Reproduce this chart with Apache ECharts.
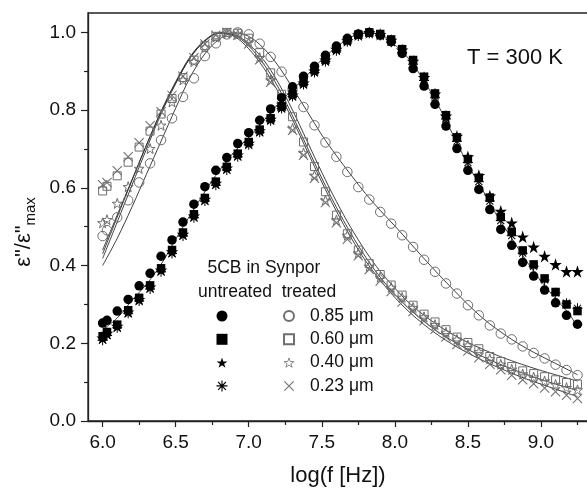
<!DOCTYPE html>
<html><head><meta charset="utf-8">
<script src="https://cdn.jsdelivr.net/npm/echarts@6/dist/echarts.min.js"></script>
<style>html,body{margin:0;padding:0;background:#fff}#c{width:587px;height:494px}</style>
</head><body><div id="c"></div>
<script>
// ---- data ----
const logF = [6.0, 6.03, 6.1, 6.175, 6.25, 6.325, 6.4, 6.475, 6.55, 6.625, 6.7, 6.775, 6.85, 6.925, 7.0, 7.075, 7.15, 7.225, 7.3, 7.375, 7.45, 7.525, 7.6, 7.675, 7.75, 7.825, 7.9, 7.975, 8.05, 8.125, 8.2, 8.275, 8.35, 8.425, 8.5, 8.575, 8.65, 8.725, 8.8, 8.875, 8.95, 9.025, 9.1, 9.175, 9.25];

const untreated085 = [0.252, 0.259, 0.283, 0.313, 0.348, 0.380, 0.424, 0.466, 0.512, 0.558, 0.603, 0.645, 0.678, 0.714, 0.742, 0.774, 0.803, 0.832, 0.860, 0.887, 0.913, 0.941, 0.965, 0.985, 0.996, 1.000, 0.993, 0.976, 0.946, 0.907, 0.862, 0.815, 0.759, 0.701, 0.645, 0.596, 0.544, 0.493, 0.452, 0.408, 0.373, 0.337, 0.304, 0.272, 0.249];
const untreated060 = [0.218, 0.229, 0.248, 0.285, 0.317, 0.349, 0.393, 0.440, 0.485, 0.532, 0.574, 0.616, 0.654, 0.688, 0.718, 0.750, 0.779, 0.810, 0.841, 0.872, 0.903, 0.930, 0.958, 0.980, 0.994, 1.000, 0.996, 0.982, 0.957, 0.929, 0.886, 0.843, 0.787, 0.730, 0.674, 0.626, 0.575, 0.525, 0.487, 0.439, 0.403, 0.367, 0.332, 0.300, 0.283];
const untreated040 = [0.214, 0.226, 0.244, 0.281, 0.313, 0.345, 0.389, 0.436, 0.481, 0.528, 0.571, 0.612, 0.651, 0.685, 0.715, 0.747, 0.777, 0.808, 0.839, 0.870, 0.901, 0.929, 0.957, 0.979, 0.994, 1.000, 0.995, 0.980, 0.955, 0.926, 0.884, 0.842, 0.785, 0.733, 0.680, 0.632, 0.579, 0.540, 0.510, 0.474, 0.448, 0.424, 0.403, 0.385, 0.385];
const untreated023 = [0.208, 0.220, 0.240, 0.277, 0.309, 0.340, 0.384, 0.431, 0.476, 0.523, 0.566, 0.607, 0.646, 0.680, 0.711, 0.743, 0.773, 0.804, 0.835, 0.866, 0.897, 0.925, 0.953, 0.976, 0.991, 0.998, 0.992, 0.975, 0.948, 0.918, 0.876, 0.832, 0.777, 0.720, 0.665, 0.616, 0.566, 0.516, 0.477, 0.432, 0.398, 0.363, 0.330, 0.303, 0.290];

const treated085 = [0.476, 0.491, 0.524, 0.568, 0.614, 0.663, 0.723, 0.779, 0.834, 0.882, 0.939, 0.972, 0.995, 1.000, 0.995, 0.971, 0.937, 0.899, 0.853, 0.808, 0.761, 0.717, 0.680, 0.641, 0.602, 0.570, 0.538, 0.508, 0.478, 0.448, 0.415, 0.384, 0.354, 0.328, 0.298, 0.272, 0.246, 0.225, 0.210, 0.192, 0.175, 0.161, 0.145, 0.131, 0.118];
const treated060 = [0.592, 0.604, 0.631, 0.666, 0.705, 0.746, 0.790, 0.830, 0.884, 0.929, 0.966, 0.990, 1.000, 0.998, 0.985, 0.948, 0.896, 0.841, 0.783, 0.718, 0.655, 0.590, 0.530, 0.482, 0.440, 0.405, 0.377, 0.350, 0.324, 0.298, 0.275, 0.255, 0.235, 0.216, 0.202, 0.186, 0.166, 0.153, 0.140, 0.129, 0.122, 0.114, 0.106, 0.099, 0.095];
const treated040 = [0.510, 0.518, 0.560, 0.603, 0.650, 0.701, 0.761, 0.821, 0.878, 0.925, 0.962, 0.988, 0.998, 0.995, 0.975, 0.935, 0.877, 0.815, 0.753, 0.690, 0.632, 0.568, 0.517, 0.478, 0.432, 0.398, 0.370, 0.344, 0.318, 0.292, 0.268, 0.248, 0.228, 0.210, 0.195, 0.178, 0.160, 0.146, 0.133, 0.121, 0.113, 0.103, 0.094, 0.086, 0.080];
const treated023 = [0.608, 0.614, 0.644, 0.680, 0.716, 0.760, 0.796, 0.838, 0.887, 0.935, 0.970, 0.993, 1.000, 0.993, 0.970, 0.930, 0.872, 0.810, 0.748, 0.684, 0.625, 0.562, 0.510, 0.468, 0.425, 0.390, 0.360, 0.333, 0.306, 0.282, 0.258, 0.236, 0.216, 0.197, 0.180, 0.163, 0.146, 0.132, 0.118, 0.106, 0.096, 0.085, 0.075, 0.066, 0.058];

// fitted curves
const fitX = [6.0, 6.1, 6.2, 6.3, 6.4, 6.5, 6.6, 6.7, 6.8, 6.9, 7.0, 7.1, 7.2, 7.3, 7.4, 7.5, 7.6, 7.7, 7.8, 7.9, 8.0, 8.1, 8.2, 8.3, 8.4, 8.5, 8.6, 8.7, 8.8, 8.9, 9.0, 9.1, 9.2, 9.25];
const fitUntreated = [0.235, 0.265, 0.310, 0.352, 0.403, 0.468, 0.530, 0.590, 0.645, 0.692, 0.730, 0.772, 0.815, 0.853, 0.890, 0.930, 0.962, 0.988, 0.999, 0.995, 0.968, 0.930, 0.875, 0.810, 0.735, 0.660, 0.595, 0.528, 0.470, 0.412, 0.360, 0.315, 0.272, 0.240];
const fitTreated085 = [0.400, 0.470, 0.550, 0.635, 0.720, 0.805, 0.885, 0.945, 0.983, 0.999, 0.990, 0.960, 0.915, 0.857, 0.797, 0.736, 0.683, 0.633, 0.585, 0.542, 0.502, 0.460, 0.418, 0.377, 0.338, 0.300, 0.265, 0.236, 0.210, 0.187, 0.167, 0.148, 0.129, 0.119];
const fitTreated060 = [0.440, 0.530, 0.620, 0.710, 0.795, 0.870, 0.935, 0.978, 0.998, 0.995, 0.970, 0.930, 0.872, 0.800, 0.720, 0.640, 0.565, 0.497, 0.437, 0.385, 0.342, 0.303, 0.272, 0.245, 0.222, 0.202, 0.185, 0.169, 0.155, 0.142, 0.130, 0.119, 0.108, 0.103];
const fitTreated040 = [0.430, 0.525, 0.618, 0.710, 0.797, 0.873, 0.938, 0.980, 0.999, 0.993, 0.965, 0.920, 0.860, 0.785, 0.705, 0.625, 0.550, 0.482, 0.422, 0.370, 0.326, 0.288, 0.256, 0.228, 0.205, 0.184, 0.166, 0.149, 0.134, 0.120, 0.107, 0.095, 0.084, 0.079];
const fitTreated023 = [0.418, 0.512, 0.606, 0.700, 0.790, 0.868, 0.935, 0.978, 0.999, 0.990, 0.958, 0.910, 0.848, 0.775, 0.695, 0.615, 0.540, 0.472, 0.412, 0.362, 0.318, 0.280, 0.248, 0.220, 0.196, 0.175, 0.156, 0.139, 0.123, 0.108, 0.095, 0.082, 0.069, 0.063];

const xTickValues = [6.0, 6.5, 7.0, 7.5, 8.0, 8.5, 9.0];
const xMinorValues = [6.25, 6.75, 7.25, 7.75, 8.25, 8.75, 9.25];
const yTickValues = [0.0, 0.2, 0.4, 0.6, 0.8, 1.0];
const yMinorValues = [0.1, 0.3, 0.5, 0.7, 0.9];
const sizeLabels = ['0.85 μm', '0.60 μm', '0.40 μm', '0.23 μm'];

// ---- chart ----
const FONT = '"Liberation Sans", Arial, Helvetica, sans-serif';
const zip = (xs, ys) => xs.map((x, i) => [x, ys[i]]);
const STAR = 'path://M50,0L61.8,35.1L98.9,35.1L69.1,56.7L80.2,91L50,69.8L19.8,91L30.9,56.7L1.1,35.1L38.2,35.1Z';
const ASTER = 'path://M45,0L55,0L55,100L45,100Z M0,45L100,45L100,55L0,55Z M18.1,11.1L88.9,81.9L81.9,88.9L11.1,18.1Z M88.9,18.1L18.1,88.9L11.1,81.9L81.9,11.1Z';
const CROSS = 'path://M13.2,6.8L93.2,86.8L86.8,93.2L6.8,13.2Z M93.2,13.2L13.2,93.2L6.8,86.8L86.8,6.8Z';
const GRAY = '#6e6e6e';
const hollow = {color: 'rgba(255,255,255,0)', borderColor: GRAY, borderWidth: 1, opacity: 1};
const solid = {color: '#000', opacity: 1};

const untreatedNames = sizeLabels.map(s => 'untreated ' + s);
const treatedNames = sizeLabels.map(s => 'treated ' + s);

function scatter(name, ys, symbol, size, itemStyle, z) {
  return {type: 'scatter', name, data: zip(logF, ys), symbol, symbolSize: size,
    itemStyle, z, emphasis: {disabled: true}, silent: true, animation: false};
}
function fit(ys) {
  return {type: 'line', data: zip(fitX, ys), symbol: 'none', smooth: 0.35, z: 3,
    lineStyle: {color: '#2a2a2a', width: 0.9}, emphasis: {disabled: true}, silent: true, animation: false};
}

const option = {
  animation: false,
  backgroundColor: '#fff',
  grid: {left: 88, top: 13, width: 500, bottom: 73, show: true, borderColor: '#222', borderWidth: 1.3,
         backgroundColor: 'transparent', containLabel: false, outerBoundsMode: 'none'},
  xAxis: [{
    type: 'value', min: 5.9, max: 9.322, position: 'bottom',
    name: 'log(f [Hz])', nameLocation: 'middle', nameGap: 44,
    nameTextStyle: {fontFamily: FONT, fontSize: 22, color: '#111'},
    axisLine: {show: true, lineStyle: {color: '#222', width: 1.3}},
    axisTick: {show: true, inside: false, length: 6, customValues: xTickValues, lineStyle: {color: '#222', width: 1.2}},
    axisLabel: {show: true, customValues: xTickValues, margin: 12, formatter: v => v.toFixed(1),
                fontFamily: FONT, fontSize: 19, color: '#111'},
    splitLine: {show: false}
  }, {
    type: 'value', min: 5.9, max: 9.322, position: 'bottom',
    axisLine: {show: false},
    axisTick: {show: true, inside: false, length: 4, customValues: xMinorValues, lineStyle: {color: '#222', width: 1.2}},
    axisLabel: {show: false},
    splitLine: {show: false}
  }],
  yAxis: [{
    type: 'value', min: 0, max: 1.05, position: 'left',
    name: '{e|ε"/ε"}{s|max}', nameLocation: 'middle', nameRotate: 90, nameGap: 48,
    nameTextStyle: {fontFamily: FONT, color: '#111', padding: [0, 30, 0, 0],
      rich: {e: {fontFamily: FONT, fontSize: 22, color: '#111'},
             s: {fontFamily: FONT, fontSize: 15, color: '#111', verticalAlign: 'bottom', padding: [14, 0, 0, 0]}}},
    axisLine: {show: true, lineStyle: {color: '#222', width: 1.3}},
    axisTick: {show: true, inside: false, length: 7, customValues: yTickValues, lineStyle: {color: '#222', width: 1.2}},
    axisLabel: {show: true, customValues: yTickValues, margin: 12, formatter: v => v.toFixed(1),
                fontFamily: FONT, fontSize: 19, color: '#111'},
    splitLine: {show: false}
  }, {
    type: 'value', min: 0, max: 1.05, position: 'left',
    axisLine: {show: false},
    axisTick: {show: true, inside: false, length: 4, customValues: yMinorValues, lineStyle: {color: '#222', width: 1.2}},
    axisLabel: {show: false},
    splitLine: {show: false}
  }],
  legend: [{
    data: untreatedNames.map((n, i) => i === 2 ? {name: n, icon: STAR} : n),
    orient: 'vertical', left: 211.5, top: 302, itemWidth: 11, itemHeight: 11, itemGap: 5.3,
    selectedMode: false, formatter: () => ' ', textStyle: {fontFamily: FONT, fontSize: 17.5, color: '#111'}
  }, {
    data: treatedNames.map((n, i) => i === 2 ? {name: n, itemStyle: {borderWidth: 0.8}} : n),
    orient: 'vertical', left: 278, top: 302, itemWidth: 10, itemHeight: 10, itemGap: 5.3,
    selectedMode: false,
    formatter: n => '{p|}' + n.replace('treated ', ''),
    textStyle: {fontFamily: FONT, fontSize: 17.5, color: '#111', rich: {p: {width: 11}}}
  }],
  graphic: [
    {type: 'text', x: 207.5, y: 268, style: {text: '5CB in Synpor', fontFamily: FONT, fontSize: 17.5, fill: '#111', textAlign: 'left', textVerticalAlign: 'middle'}},
    {type: 'text', x: 198, y: 292, style: {text: 'untreated  treated', fontFamily: FONT, fontSize: 17.5, fill: '#111', textAlign: 'left', textVerticalAlign: 'middle'}},
    {type: 'text', x: 467, y: 58, style: {text: 'T = 300 K', fontFamily: FONT, fontSize: 22, fill: '#111', textAlign: 'left', textVerticalAlign: 'middle'}}
  ],
  series: [
    fit(fitTreated085), fit(fitTreated060), fit(fitTreated040), fit(fitTreated023),
    scatter(treatedNames[0], treated085, 'circle', 9.5, hollow, 4),
    scatter(treatedNames[1], treated060, 'rect', 8, hollow, 4),
    scatter(treatedNames[2], treated040, STAR, 10, hollow, 4),
    scatter(treatedNames[3], treated023, CROSS, 10, {color: GRAY, opacity: 1}, 4),
    fit(fitUntreated),
    scatter(untreatedNames[3], untreated023, ASTER, 10, solid, 5),
    scatter(untreatedNames[2], untreated040, STAR, 12.5, solid, 5),
    scatter(untreatedNames[1], untreated060, 'rect', 8.5, solid, 6),
    scatter(untreatedNames[0], untreated085, 'circle', 9.5, solid, 7)
  ]
};
const chart = echarts.init(document.getElementById('c'), null, {renderer: 'canvas'});
chart.setOption(option);
</script>
</body></html>
